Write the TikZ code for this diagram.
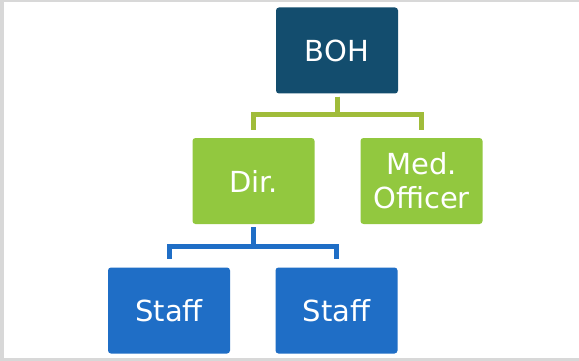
\documentclass[tikz,border=0pt]{standalone}
\usepackage{fontspec}
\setmainfont{DejaVu Sans}
\definecolor{bohblue}{HTML}{134D6E}
\definecolor{unitgreen}{HTML}{92C83F}
\definecolor{linkgreen}{HTML}{A0BC3A}
\definecolor{staffblue}{HTML}{1F6EC6}
\definecolor{framegray}{HTML}{D8D8D8}

\begin{document}
\begin{tikzpicture}[x=1pt,y=-1pt]

		\tikzstyle{unit}=[rectangle,rounded corners=3pt,
			text=white,inner sep=0pt,
			minimum height=86pt,minimum width=122pt,
			align=center,font=\fontsize{29}{34}\selectfont]
		\tikzstyle{link}=[line width=5pt,shorten <=3pt,shorten >=8pt]

		% frame
		\fill[framegray] (0,0) rectangle (579,361);
		\fill[white] (4,2) rectangle (579,358);
		\useasboundingbox (0,0) rectangle (579,361);

		\node[unit,fill=bohblue]	(boh)	at (337,50.5)	{BOH};
		\node[unit,fill=unitgreen]	(dir)	at (253.5,181)	{Dir.};
		\node[unit,fill=unitgreen]	(med)	at (421.5,181)	{Med.\\Officer};
		\node[unit,fill=staffblue]	(staffa)	at (169,310.5)	{Staff};
		\node[unit,fill=staffblue]	(staffb)	at (336.5,310.5)	{Staff};

		\draw[link,linkgreen] (boh.south) |- ++(0,21) -| (dir.north);
		\draw[link,linkgreen] (boh.south) |- ++(0,21) -| (med.north);

		\draw[link,staffblue] (dir.south) |- ++(0,22) -| (staffa.north);
		\draw[link,staffblue] (dir.south) |- ++(0,22) -| (staffb.north);

	\end{tikzpicture}
\end{document}
